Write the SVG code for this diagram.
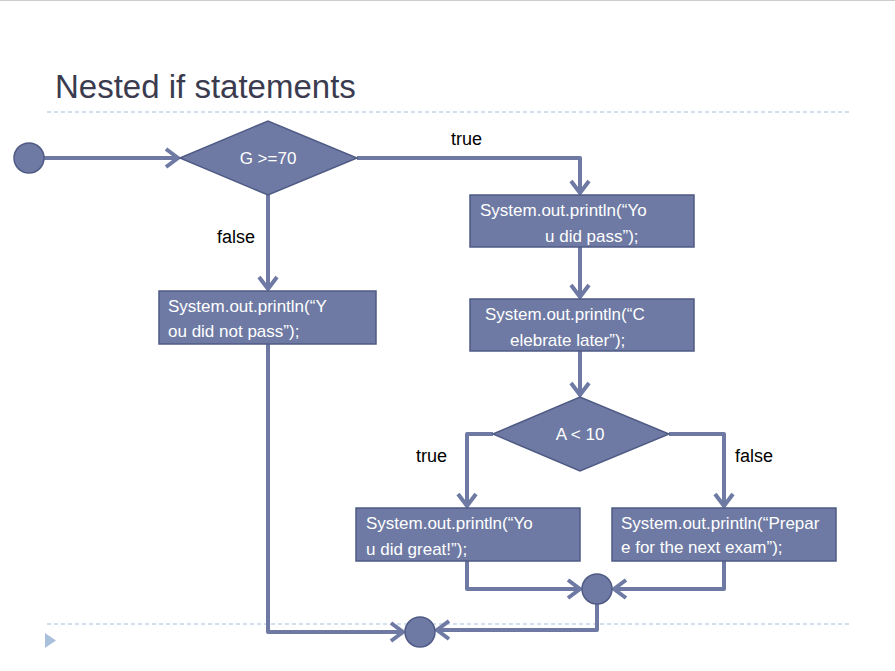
<svg xmlns="http://www.w3.org/2000/svg" width="895" height="671" viewBox="0 0 895 671">
<style>
.n{fill:#6e7aa3;stroke:#4f5b85;stroke-width:1.5}
.c{fill:none;stroke:#6e7aa3;stroke-width:4;stroke-linejoin:round}
.t{font-family:"Liberation Sans",Arial,sans-serif;font-size:17px;fill:#fff}
.l{font-family:"Liberation Sans",Arial,sans-serif;font-size:18px;fill:#000}
</style>
<defs>
<marker id="a" markerUnits="userSpaceOnUse" markerWidth="24" markerHeight="24" refX="20" refY="12" orient="auto">
<path d="M8,3 L20,12 L8,21" fill="none" stroke="#6e7aa3" stroke-width="4"/>
</marker>
</defs>
<rect width="895" height="671" fill="#fff"/>
<line x1="0" y1="0.5" x2="895" y2="0.5" stroke="#ccc"/>
<text x="55" y="98" font-family="Liberation Sans,Arial,sans-serif" font-size="33" fill="#3b3b4f">Nested if statements</text>
<line x1="47" y1="112" x2="850" y2="112" stroke="#a9c0dc" stroke-dasharray="4,3"/>
<line x1="47" y1="624" x2="850" y2="624" stroke="#a9c0dc" stroke-dasharray="4,3"/>
<polygon points="45,633 45,648 56,640.5" fill="#a9c0dc"/>
<g id="connectors">
<path class="c" d="M44,158 H178" marker-end="url(#a)"/>
<path class="c" d="M357,158 H580 V193" marker-end="url(#a)"/>
<path class="c" d="M268,195 V289" marker-end="url(#a)"/>
<path class="c" d="M580,247 V297" marker-end="url(#a)"/>
<path class="c" d="M580,351 V395" marker-end="url(#a)"/>
<path class="c" d="M493,434 H467 V506" marker-end="url(#a)"/>
<path class="c" d="M669,434 H724 V506" marker-end="url(#a)"/>
<path class="c" d="M467,561 V589 H580" marker-end="url(#a)"/>
<path class="c" d="M724,561 V589 H614" marker-end="url(#a)"/>
<path class="c" d="M597,604 V630 H437" marker-end="url(#a)"/>
<path class="c" d="M268,344 V632 H403" marker-end="url(#a)"/>
<text class="l" x="451" y="145">true</text>
<text class="l" x="217" y="243">false</text>
<text class="l" x="416" y="462">true</text>
<text class="l" x="735" y="462">false</text>
</g>
<g id="start"><circle class="n" cx="29" cy="158" r="15"/></g>
<g id="d1"><polygon class="n" points="180,158 268,121 357,158 268,195"/><text class="t" x="268" y="164" text-anchor="middle">G &gt;=70</text></g>
<g id="b0"><rect class="n" x="159" y="291" width="217" height="53"/><text class="t" x="168" y="312">System.out.println(“Y</text><text class="t" x="168" y="337">ou did not pass”);</text></g>
<g id="b1"><rect class="n" x="470" y="195" width="224" height="52"/><text class="t" x="480" y="216">System.out.println(“Yo</text><text class="t" x="545" y="242">u did pass”);</text></g>
<g id="b2"><rect class="n" x="470" y="299" width="224" height="52"/><text class="t" x="485" y="320">System.out.println(“C</text><text class="t" x="510" y="346">elebrate later”);</text></g>
<g id="d2"><polygon class="n" points="493,434 580,397 669,434 580,471"/><text class="t" x="580" y="440" text-anchor="middle">A &lt; 10</text></g>
<g id="b3"><rect class="n" x="356" y="508" width="224" height="53"/><text class="t" x="366" y="529">System.out.println(“Yo</text><text class="t" x="366" y="555">u did great!”);</text></g>
<g id="b4"><rect class="n" x="612" y="508" width="224" height="53"/><text class="t" x="621" y="529" font-size="14.5">System.out.println(“Prepar</text><text class="t" x="621" y="553" font-size="14.5">e for the next exam”);</text></g>
<g id="m1"><circle class="n" cx="597" cy="589" r="15"/></g>
<g id="end"><circle class="n" cx="420" cy="632" r="15"/></g>
</svg>
